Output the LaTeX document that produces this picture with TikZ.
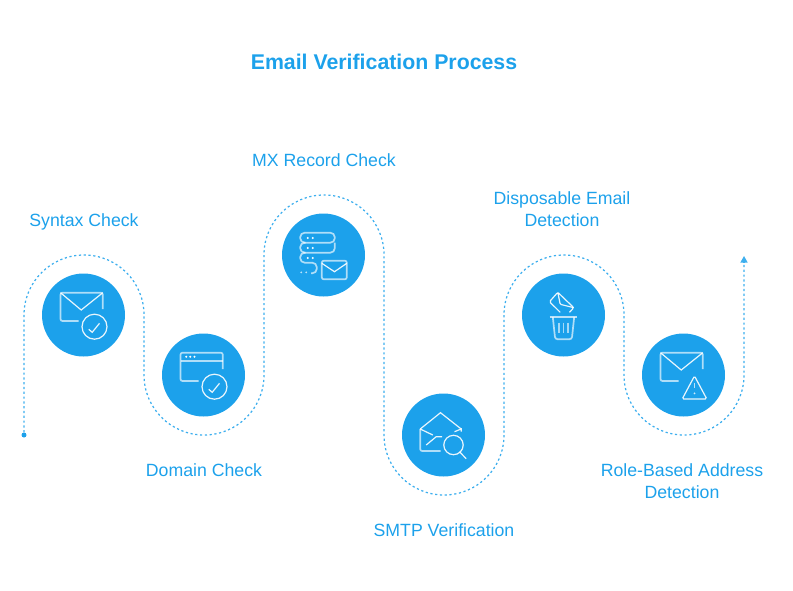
\documentclass[tikz,border=0pt]{standalone}
\usepackage{fontspec}
\setmainfont{Liberation Sans}
\usetikzlibrary{arrows.meta}
\definecolor{skyblue}{HTML}{1CA1EB}
\newcommand\envelopeicon{%
\draw[iconthick,rounded corners=2] (-5,6) -- (-23,6) -- (-23,-22.3) -- (19.3,-22.3) -- (19.3,-6);
\draw[iconline] (-23,-22.3) -- (-2.3,-5) -- (19.3,-22.3);
}
\newcommand\checkicon{%
\draw[iconline] (11,11.7) circle (12.5);
\draw[iconline] (5.3,14.3) -- (8.7,17.3) -- (16,8.3);
}
\tikzset{
	stepdisc/.style={circle,fill=skyblue,minimum size=83pt,inner sep=0},
	steptext/.style={text=skyblue,font=\fontsize{17.7}{22}\selectfont,align=center,inner sep=0},
	flowline/.style={skyblue!85,line width=1.25pt,dash pattern=on 2.2pt off 2.6pt},
	iconline/.style={white,line width=1.2pt,opacity=0.9},
	iconthick/.style={white,line width=1.7pt,opacity=0.65},
}
\begin{document}
\begin{tikzpicture}[x=1pt,y=1pt]
	\useasboundingbox (0,0) rectangle (793,-590);

	\node[text=skyblue,font=\fontsize{21.3}{26}\selectfont\bfseries,inner sep=0] (title) at (384,-62) {Email Verification Process};

	%% the winding line
	\node[circle,fill=skyblue,minimum size=5pt,inner sep=0] (start) at (24,-435) {};
	\coordinate (finish) at (744,-256);
	\draw[flowline] (start) -- (24,-315) arc (180:0:60) -- (144,-375) arc (180:360:60)
		-- (264,-255) arc (180:0:60) -- (384,-435) arc (180:360:60)
		-- (504,-315) arc (180:0:60) -- (624,-375) arc (180:360:60) -- (744,-262);
	\draw[flowline,solid,-{Triangle[length=6.5pt,width=7pt]}] (744,-262) -- (finish);

	\node[stepdisc] (syntax) at (83.5,-315) {};
	\node[stepdisc] (domain) at (203.5,-375) {};
	\node[stepdisc] (mx) at (323.5,-255) {};
	\node[stepdisc] (smtp) at (443.5,-435) {};
	\node[stepdisc] (disposable) at (563.5,-315) {};
	\node[stepdisc] (role) at (683.5,-375) {};

	\node[steptext] (syntaxlabel) at (84,-222) {Syntax Check};
	\node[steptext] (domainlabel) at (204,-470.5) {Domain Check};
	\node[steptext] (mxlabel) at (324,-160.5) {MX Record Check};
	\node[steptext] (smtplabel) at (444,-530.5) {SMTP Verification};
	\node[steptext] (disposablelabel) at (562,-209.5) {Disposable Email\\Detection};
	\node[steptext] (rolelabel) at (682,-481.5) {Role-Based Address\\Detection};

	%% icons, y is up so everything is mirrored by hand
	\begin{scope}[shift={(syntax.center)},y=-1pt]
		\envelopeicon
		\checkicon
	\end{scope}

	\begin{scope}[shift={(domain.center)},y=-1pt]
		\draw[iconthick,rounded corners=2] (-5,6) -- (-23,6) -- (-23,-22.3) -- (19.3,-22.3) -- (19.3,-6);
		\draw[iconthick] (-23,-14.3) -- (19.3,-14.3);
		\foreach \dotx in {-17.3,-13.3,-9}
			\fill[white] (\dotx,-18.3) circle (1.1);
		\checkicon
	\end{scope}

	\begin{scope}[shift={(mx.center)},y=-1pt]
		\draw[iconthick,rounded corners=4.5] (-18,-12.3) -- (-23.3,-12.3) -- (-23.3,-22.3) -- (11.3,-22.3) -- (11.3,-12.3) -- (-18,-12.3);
		\draw[iconthick,rounded corners=4.5] (-18,-12.3) -- (-23.3,-12.3) -- (-23.3,-2.3) -- (11.3,-2.3) -- (11.3,-12.3);
		\draw[iconthick,rounded corners=4.5] (-18,-2.3) -- (-23.3,-2.3) -- (-23.3,7.7) -- (-6.7,7.7) -- (-6.7,18.3) -- (-12.3,18.3);
		\foreach \rowy in {-17,-7,3}
			\foreach \dotx in {-15.7,-10.7}
				\fill[white] (\dotx,\rowy) circle (1.1);
		\foreach \dotx in {-22.3,-17.3}
			\fill[white,opacity=0.7] (\dotx,17.3) circle (1);
		\draw[iconthick,rounded corners=2] (-1.7,5.7) rectangle (23.3,24.3);
		\draw[iconline] (-1.7,8.3) -- (11,16.7) -- (23.3,8.3);
	\end{scope}

	\begin{scope}[shift={(smtp.center)},y=-1pt]
		\draw[iconline] (-23.3,-6) -- (-3,-22.3) -- (17.7,-6);
		\draw[iconthick,rounded corners=2] (-23.3,-6) -- (-23.3,16) -- (-3,16);
		\draw[iconline] (-23.3,-6) -- (-10.7,0);
		\draw[iconline] (-17.3,10) -- (-7.3,1.7) -- (-1.3,1.7);
		\draw[iconline] (11,-3.3) -- (17.7,-6) -- (17.7,-3.3);
		\draw[iconline] (10,10) circle (9.7);
		\draw[iconline] (16,16.7) -- (22.7,23.7);
	\end{scope}

	\begin{scope}[shift={(disposable.center)},y=-1pt]
		\draw[iconline,rounded corners=1.5] (-3.3,-2.7) -- (-14,-13.3) -- (-5.7,-22.7) -- (10.3,-7.3) -- (6,-2.7);
		\draw[iconline,rounded corners=1] (-5.7,-22.7) -- (-3.3,-10.7) -- (10.3,-7.3);
		\draw[white,line width=1.7pt,opacity=0.7] (-14,1.7) -- (13.7,1.7);
		\draw[iconthick,rounded corners=2.5] (-10.7,2) -- (-8.3,24.3) -- (8.3,24.3) -- (10.7,2);
		\foreach \barx in {-4.7,0,4.3}
			\draw[white,line width=1.8pt,opacity=0.6] (\barx,7.7) -- (\barx,17.7);
	\end{scope}

	\begin{scope}[shift={(role.center)},y=-1pt]
		\envelopeicon
		\draw[iconline,rounded corners=1.5] (11,1) -- (-1.3,24) -- (23.3,24) -- cycle;
		\draw[white,line width=1.5pt,opacity=0.7] (11,8.3) -- (11,13.3);
		\fill[white,opacity=0.8] (11,18.3) circle (1);
	\end{scope}
\end{tikzpicture}
\end{document}
